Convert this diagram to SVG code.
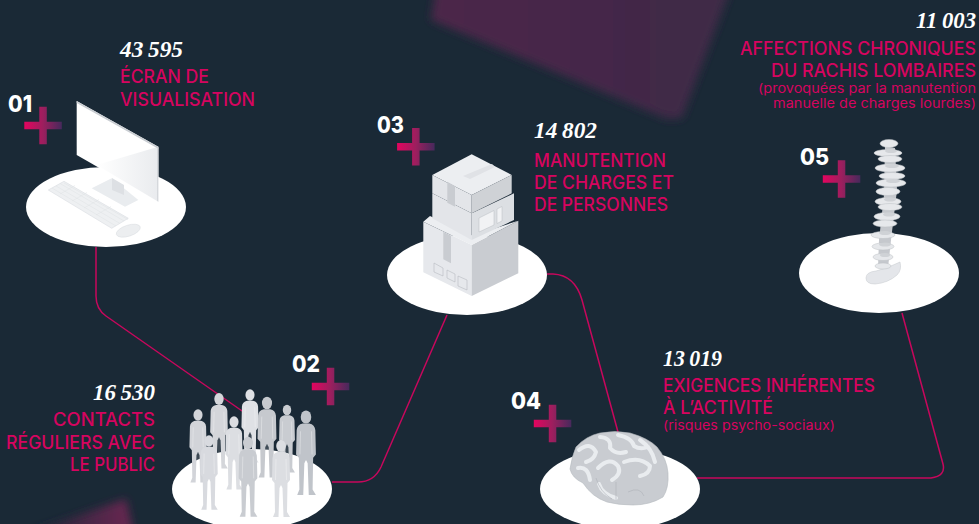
<svg xmlns="http://www.w3.org/2000/svg" xmlns:xlink="http://www.w3.org/1999/xlink" width="979" height="524" viewBox="0 0 979 524">
<style>
text{font-family:"Inter","Liberation Sans",sans-serif}
.num{font-family:"Liberation Serif",serif;font-style:italic;font-weight:700;font-size:24px;fill:#fff}
.step{font-weight:800;font-size:23px;fill:#fff}
.lab{font-weight:500;font-size:18px;fill:#d6045f}
.sub{font-weight:400;font-size:13px;fill:#d6045f}
.disc{fill:#fff}
.link{fill:none;stroke:#d6045f;stroke-width:1.5;stroke-opacity:.92}
.v{fill:#e6e8eb;stroke:#bcc0c5;stroke-width:.5}
.b{fill:#cfd2d6}
.gy{fill:none;stroke:#e9ecef;stroke-width:4;stroke-linecap:round;stroke-linejoin:round}
.gl{fill:none;stroke:#aeb2b8;stroke-width:.6}
.bx{fill:none;stroke:#aeb2b8;stroke-width:.5}
.arm{fill:none;stroke:#fff;stroke-opacity:.45;stroke-width:.7}
</style>
<defs>
<linearGradient id="plusG" x1="0" x2="1" y1="0" y2="0"><stop offset="0" stop-color="#e4045f"/><stop offset=".5" stop-color="#9c1f5e"/><stop offset="1" stop-color="#47295c"/></linearGradient>
<linearGradient id="blobA" x1="0" x2="1" y1="0" y2="0"><stop offset="0" stop-color="#4c2849"/><stop offset="1" stop-color="#3e2947"/></linearGradient>
<linearGradient id="blobB" x1="0" x2="1" y1="0" y2="0"><stop offset="0" stop-color="#1a2936"/><stop offset="1" stop-color="#6b2652"/></linearGradient>
<linearGradient id="scr" x1="0" x2="1" y1="0" y2="0"><stop offset="0" stop-color="#fff"/><stop offset="1" stop-color="#e9ebee"/></linearGradient>
<filter id="soft" x="-20%" y="-20%" width="140%" height="140%"><feGaussianBlur stdDeviation="4"/></filter>
<path id="plus" d="M-3.7-18.7h7.5v15h15v7.5h-15v15h-7.5v-15h-15v-7.500h15z" fill="url(#plusG)"/>
<g id="person"><ellipse cx="0" cy="0" rx="4.800" ry="6"/><path d="M-3 6L3 6Q8 7 8.500 12L9 34L6.500 37L6 66L9 71L2.500 71L1.500 42L0 39L-1.500 42L-2.500 71L-8 71L-6 66L-6.500 37L-9 34L-8.500 12Q-8 7-3 6Z"/><path class="arm" d="M-5 13L-5.500 34M5 13L5.500 34M0 40V70"/></g>
</defs>
<rect width="979" height="524" fill="#1a2936"/>
<g id="background">
<polygon points="436,-12 431,20 667,119 682,118 731,-12" fill="url(#blobA)" filter="url(#soft)"/>
<polygon points="30,532 126,499 133,532" fill="url(#blobB)" filter="url(#soft)"/>
</g>
<g id="connectors">
<path class="link" d="M96 247V296Q96 309 106 316L245 413"/>
<path class="link" d="M332 482H358Q374 482 381 467L447 315"/>
<path class="link" d="M547 274H553Q575 275 582 300L618 432"/>
<path class="link" d="M697 478H931Q946 476 943 464L902 313"/>
</g>
<g id="node-01">
<ellipse class="disc" cx="106" cy="207" rx="80" ry="40"/>
<polygon points="76.700,101 158.300,146.700 158.300,201.700 76.700,155" fill="#fff"/>
<polygon points="96.700,165 158.300,146.700 158.300,201.700" fill="url(#scr)"/>
<polygon points="76.700,101 158.300,146.700 158.300,148.700 76.700,103" fill="#c9cdd2"/>
<polygon points="157,148 158.300,148 158.300,201.700 157,200.800" fill="#d5d8dc"/>
<polygon points="91.700,188.300 111.700,178.300 138.300,200 125,206.700" fill="#e9ecef"/>
<polygon points="112,178 124,185 124,195 112,190" fill="#dde0e4"/>
<polygon points="48.300,190 64,181.300 128.300,218.300 111.700,228.300" fill="#eef0f2" stroke="#d9dce0" stroke-width=".6"/>
<path d="M52 188L116 226M56 186L120 223.500M60 183.500L124 221M64 183L128 219.500M60 194L75 185.500M72 201L87 192.500M84 208L99 199.500M96 215L111 206.500" stroke="#dfe2e5" stroke-width=".5" fill="none"/>
<ellipse cx="128.300" cy="230.700" rx="12.500" ry="5.500" transform="rotate(-18 128.300 230.700)" fill="#eceef0" stroke="#d9dce0" stroke-width=".5"/>
<use xlink:href="#plus" href="#plus" x="43" y="125.500"/>
<text class="step" x="8" y="112" textLength="24" lengthAdjust="spacingAndGlyphs">01</text>
<text class="num" x="120" y="57" textLength="63" lengthAdjust="spacingAndGlyphs">43&#8201;595</text>
<text class="lab" x="120" y="83" textLength="89" lengthAdjust="spacingAndGlyphs">ÉCRAN DE</text>
<text class="lab" x="120" y="106" textLength="135" lengthAdjust="spacingAndGlyphs">VISUALISATION</text>
</g>
<g id="node-02">
<ellipse class="disc" cx="252" cy="489" rx="80" ry="40"/>
<use xlink:href="#person" href="#person" transform="translate(250 395) scale(.95)" fill="#dfe1e5"/>
<use xlink:href="#person" href="#person" transform="translate(287 410) scale(.88)" fill="#c9ccd1"/>
<use xlink:href="#person" href="#person" transform="translate(219 399) scale(.98)" fill="#d4d6da"/>
<use xlink:href="#person" href="#person" transform="translate(267 403) scale(1.050)" fill="#c6c9ce"/>
<use xlink:href="#person" href="#person" transform="translate(198 415) scale(.95)" fill="#d2d4d9"/>
<use xlink:href="#person" href="#person" transform="translate(306 417) scale(1.100)" fill="#c0c4ca"/>
<use xlink:href="#person" href="#person" transform="translate(234 422) scale(.95)" fill="#dcdee2"/>
<use xlink:href="#person" href="#person" transform="translate(209 441) scale(.97)" fill="#d8dadf"/>
<use xlink:href="#person" href="#person" transform="translate(248 443) scale(1.040)" fill="#c9ccd1"/>
<use xlink:href="#person" href="#person" transform="translate(281 446) scale(1)" fill="#dcdee2"/>
<use xlink:href="#plus" href="#plus" x="330.500" y="386.500"/>
<text class="step" x="292" y="372" textLength="28" lengthAdjust="spacingAndGlyphs">02</text>
<text class="num" x="93" y="400" textLength="62" lengthAdjust="spacingAndGlyphs">16&#8201;530</text>
<text class="lab" x="53" y="426" textLength="102" lengthAdjust="spacingAndGlyphs">CONTACTS</text>
<text class="lab" x="6" y="449" textLength="149" lengthAdjust="spacingAndGlyphs">RÉGULIERS AVEC</text>
<text class="lab" x="70" y="471" textLength="85" lengthAdjust="spacingAndGlyphs">LE PUBLIC</text>
</g>
<g id="node-03">
<ellipse class="disc" cx="467" cy="275" rx="80" ry="40"/>
<polygon points="423.300,221.700 471.700,245 471.700,296 423.300,272.300" fill="#e6e8ec"/>
<polygon points="471.700,245 518.300,220.700 518.300,273.300 471.700,296" fill="#c9ccd1"/>
<polygon points="423.300,221.700 430,216 471.700,236 518.300,220.700 471.700,245" fill="#eceef1"/>
<polygon points="432.300,193.300 471.700,213.300 471.700,240 432.300,218.300" fill="#e3e5e9"/>
<polygon points="471.700,213.300 514,193.300 514,220 471.700,240" fill="#dcdfe3"/>
<polygon points="432.300,175 471.700,154.300 511.700,175 471.700,195" fill="#eceef1"/>
<polygon points="432.300,175 471.700,195 471.700,213.300 432.300,193.300" fill="#e3e5e9"/>
<polygon points="471.700,195 511.700,175 511.700,193.300 471.700,213.300" fill="#cfd2d6"/>
<polygon points="447.300,181.700 455,186 455,206.700 447.300,202.700" fill="#c9ccd1"/>
<polygon points="443.300,231.700 451,235.700 451,263.300 443.300,259.300" fill="#c9ccd1"/>
<polygon points="463,176 492,164 495,167 470,179" fill="#e0e2e6"/>
<polygon points="479,218 494,210.500 494,225 479,232" fill="#f1f2f4" stroke="#aeb2b8" stroke-width=".4"/>
<polygon points="497,209 502,206.500 502,221 497,223.500" fill="#f1f2f4" stroke="#aeb2b8" stroke-width=".4"/>
<polygon class="bx" points="434,263 443,268 443,276 434,272"/>
<polygon class="bx" points="447,270 455,274 455,282 447,278"/>
<polygon class="bx" points="458,276 467,280 467,290 458,286"/>
<use xlink:href="#plus" href="#plus" x="415.800" y="146.800"/>
<text class="step" x="377" y="133" textLength="27" lengthAdjust="spacingAndGlyphs">03</text>
<text class="num" x="534" y="138" textLength="63" lengthAdjust="spacingAndGlyphs">14&#8201;802</text>
<text class="lab" x="534" y="167" textLength="132" lengthAdjust="spacingAndGlyphs">MANUTENTION</text>
<text class="lab" x="534" y="189" textLength="140" lengthAdjust="spacingAndGlyphs">DE CHARGES ET</text>
<text class="lab" x="534" y="211" textLength="134" lengthAdjust="spacingAndGlyphs">DE PERSONNES</text>
</g>
<g id="node-04">
<ellipse class="disc" cx="620" cy="489" rx="80" ry="40"/>
<path d="M570 469Q572 456 576 447Q586 436 600 433Q615 430 630 433Q648 438 657 447Q667 459 668 473Q669 488 663 497Q650 505 633 505Q618 505 607 502Q592 497 583 483Q572 478 570 469Z" fill="#c9ccd1" stroke="#b4b8be" stroke-width=".6"/>
<path class="gy" d="M579 450Q590 441 596 452Q594 460 586 462M600 437Q612 438 610 448Q616 455 626 452M618 435Q632 438 634 446Q640 450 648 447M640 440Q652 448 655 462"/>
<path class="gy" d="M578 468Q588 466 590 480M598 468Q610 456 618 466Q622 474 612 480M624 462Q640 456 650 466Q650 474 640 476M599 484Q602 494 616 498"/>
<path class="gl" d="M596 478Q600 492 612 499M616 482V500M628 492Q640 486 644 496"/>
<use xlink:href="#plus" href="#plus" x="552.500" y="423.500"/>
<text class="step" x="511" y="409" textLength="30" lengthAdjust="spacingAndGlyphs">04</text>
<text class="num" x="663" y="366" textLength="59" lengthAdjust="spacingAndGlyphs">13&#8201;019</text>
<text class="lab" x="663" y="392" textLength="212" lengthAdjust="spacingAndGlyphs">EXIGENCES INHÉRENTES</text>
<text class="lab" x="663" y="414" textLength="110" lengthAdjust="spacingAndGlyphs">À L’ACTIVITÉ</text>
<text class="sub" x="663" y="430" textLength="172" lengthAdjust="spacingAndGlyphs">(risques psycho-sociaux)</text>
</g>
<g id="node-05">
<ellipse class="disc" cx="879" cy="273" rx="80" ry="40"/>
<path d="M866 278Q866 272 876 271Q888 268 900 262Q902 270 897 275Q888 283 875 284Q866 284 866 278Z" fill="#e4e6ea" stroke="#c5c8cd" stroke-width=".5"/>
<path d="M885 146L895 148L897 190L891 240L888 268L878 268L879 240L884 195Z" fill="#c5c8cd"/>
<ellipse class="v" cx="889" cy="143.500" rx="9" ry="4"/>
<ellipse class="v" cx="888" cy="153" rx="14" ry="3.500"/><ellipse class="b" cx="891" cy="151" rx="6" ry="2"/>
<ellipse class="v" cx="890" cy="159" rx="12" ry="3.500"/>
<ellipse class="v" cx="890" cy="168" rx="15" ry="4"/><ellipse class="b" cx="892" cy="166" rx="7" ry="2"/>
<ellipse class="v" cx="892" cy="176" rx="13" ry="3.500"/>
<ellipse class="v" cx="891" cy="183" rx="15" ry="4"/><ellipse class="b" cx="893" cy="181" rx="7" ry="2"/>
<ellipse class="v" cx="888" cy="191.500" rx="12" ry="4"/>
<ellipse class="v" cx="888" cy="201.500" rx="13" ry="4"/><ellipse class="b" cx="890" cy="199.500" rx="6" ry="2"/>
<ellipse class="v" cx="890" cy="207" rx="12" ry="3.500"/>
<ellipse class="v" cx="887" cy="216.500" rx="13" ry="4"/><ellipse class="b" cx="889" cy="214.500" rx="6" ry="2"/>
<ellipse class="v" cx="885" cy="223.500" rx="12" ry="3.500"/>
<ellipse class="v" cx="883" cy="235" rx="12" ry="3.500"/><ellipse class="b" cx="885" cy="233" rx="6" ry="2"/>
<ellipse class="v" cx="883" cy="246.500" rx="11" ry="3.500"/><ellipse class="b" cx="885" cy="244.500" rx="6" ry="2"/>
<ellipse class="v" cx="883" cy="257" rx="10" ry="3.500"/><ellipse class="b" cx="885" cy="255" rx="5" ry="2"/>
<ellipse class="v" cx="883" cy="266" rx="8" ry="3"/>
<use xlink:href="#plus" href="#plus" x="841.500" y="179"/>
<text class="step" x="800" y="165" textLength="29" lengthAdjust="spacingAndGlyphs">05</text>
<text class="num" x="916" y="28" textLength="60" lengthAdjust="spacingAndGlyphs">11&#8201;003</text>
<text class="lab" x="740" y="55" textLength="236" lengthAdjust="spacingAndGlyphs">AFFECTIONS CHRONIQUES</text>
<text class="lab" x="771" y="77" textLength="205" lengthAdjust="spacingAndGlyphs">DU RACHIS LOMBAIRES</text>
<text class="sub" x="758" y="93" textLength="218" lengthAdjust="spacingAndGlyphs">(provoquées par la manutention</text>
<text class="sub" x="773" y="108" textLength="203" lengthAdjust="spacingAndGlyphs">manuelle de charges lourdes)</text>
</g>
</svg>
